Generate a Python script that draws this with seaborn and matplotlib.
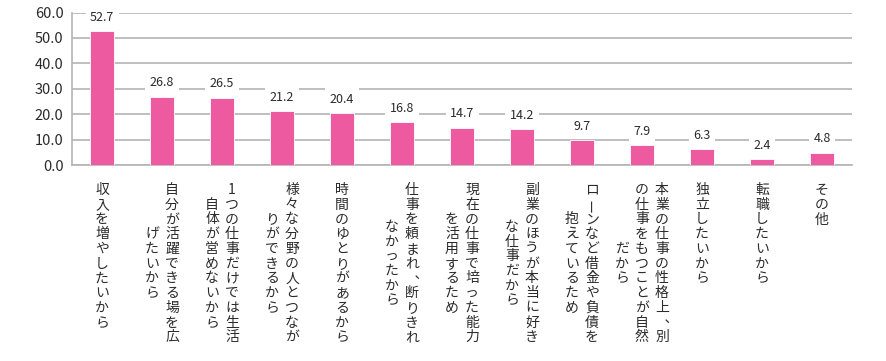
import numpy as np
import pandas as pd
import matplotlib
matplotlib.use("Agg")
import matplotlib.pyplot as plt
import seaborn as sns

# data
labels = [
    ["収入を増やしたいから"],
    ["自分が活躍できる場を広", "げたいから"],
    ["1つの仕事だけでは生活", "自体が営めないから"],
    ["様々な分野の人とつなが", "りができるから"],
    ["時間のゆとりがあるから"],
    ["仕事を頼まれ、断りきれ", "なかったから"],
    ["現在の仕事で培った能力", "を活用するため"],
    ["副業のほうが本当に好き", "な仕事だから"],
    ["ローンなど借金や負債を", "抱えているため"],
    ["本業の仕事の性格上、別", "の仕事をもつことが自然", "だから"],
    ["独立したいから"],
    ["転職したいから"],
    ["その他"],
]
values = [52.7, 26.8, 26.5, 21.2, 20.4, 16.8, 14.7, 14.2, 9.7, 7.9, 6.3, 2.4, 4.8]
yticks = [0, 10, 20, 30, 40, 50, 60]

bar_color = "#EE5A9F"
grid_color = "#B4B4B4"
text_color = "#2B2B2B"

sns.set_style("white")
plt.rcParams["font.family"] = ["Noto Sans CJK JP", "DejaVu Sans"]

df = pd.DataFrame({"reason": ["".join(l) for l in labels], "pct": values})

fig = plt.figure(figsize=(8.86, 3.61), dpi=100)
ax = fig.add_axes([72 / 886, 1 - 165 / 361, 780 / 886, 152.5 / 361])

sns.barplot(data=df, x="reason", y="pct", color=bar_color, width=0.4,
            saturation=1, edgecolor="white", linewidth=0.6, ax=ax, zorder=3)

ax.set_ylim(0, 60)
ax.set_xlim(-0.5, len(values) - 0.5)
ax.set_yticks(yticks)
ax.set_yticklabels([f"{v:.1f}" for v in yticks], fontsize=10.5, color=text_color)
ax.tick_params(axis="y", length=0, pad=6)
ax.tick_params(axis="x", length=0, labelbottom=False)
ax.set_xlabel("")
ax.set_ylabel("")
ax.grid(axis="y", color=grid_color, linewidth=1.2, zorder=0)
for s in ["top", "right"]:
    ax.spines[s].set_visible(False)
for s in ["left", "bottom"]:
    ax.spines[s].set_color(grid_color)
    ax.spines[s].set_linewidth(1.2)

# value labels
for i, v in enumerate(values):
    ax.annotate(f"{v:.1f}", xy=(i, v), xytext=(0, 10), textcoords="offset points",
                ha="center", va="center", fontsize=9, color=text_color, zorder=5,
                bbox=dict(boxstyle="square,pad=0.35", fc="white", ec="none"))

# vertical japanese labels, one glyph at a time
col_gap = 14.4
char_step = 10.6
top_off = 18
for i, cols in enumerate(labels):
    n = len(cols)
    longest = max(len(c) for c in cols)
    for j, col in enumerate(cols):
        dx = ((n - 1) / 2 - j) * col_gap
        start = (longest - len(col)) / 2
        for k, ch in enumerate(col):
            dy = -(top_off + (start + k) * char_step)
            rot = 0
            if ch == "ー":
                rot = 90
            if ch == "、":
                # flip so the comma sits in the upper right, as in vertical writing
                rot = 180
            ax.annotate(ch, xy=(i, 0), xycoords=("data", "axes fraction"),
                        xytext=(dx, dy), textcoords="offset points",
                        ha="center", va="center", fontsize=10, color=text_color,
                        rotation=rot, annotation_clip=False)

plt.savefig("out.png", dpi=100)
